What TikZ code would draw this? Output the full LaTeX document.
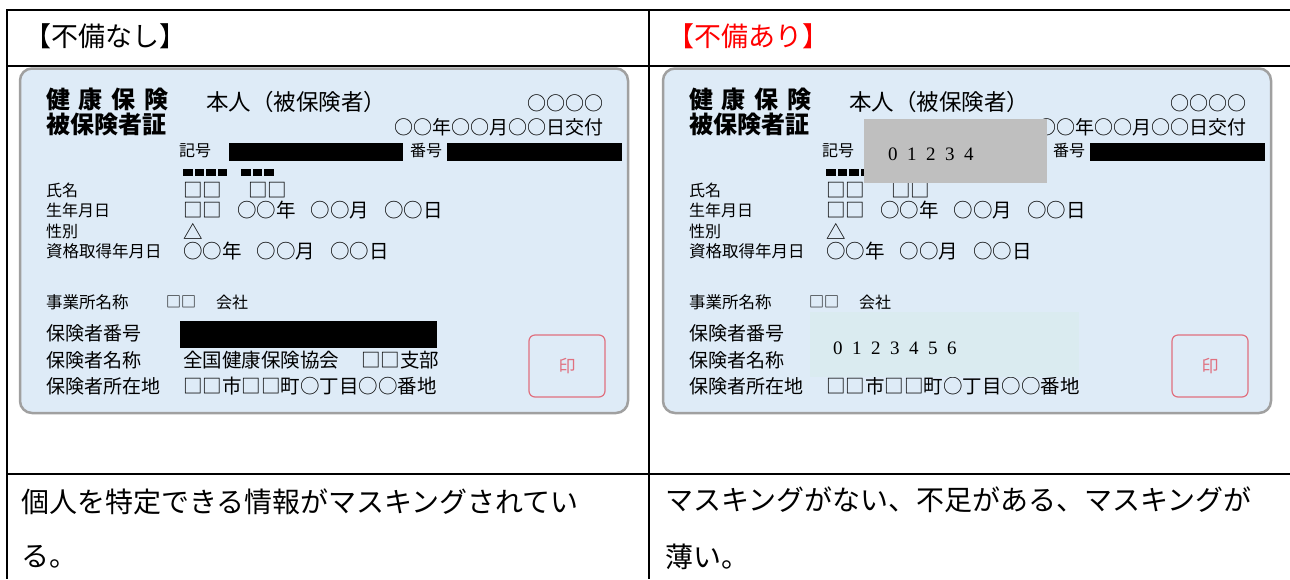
\documentclass[tikz,border=0pt]{standalone}
\usepackage{fontspec}
\setmainfont{Noto Sans CJK JP}
\newfontfamily\numfont{Liberation Serif}[LetterSpace=50]
\usetikzlibrary{positioning}
\definecolor{cardfill}{HTML}{DEEBF7}
\definecolor{cardline}{HTML}{A0A0A0}
\definecolor{maskgray}{HTML}{BFBFBF}
\definecolor{maskblue}{HTML}{DAEBF0}
\definecolor{sealred}{HTML}{E0707F}
\newcommand\fs[1]{\fontsize{#1}{#1}\selectfont}
\newif\ifmasked
\tikzset{%
rule/.style={line width=2pt},
card/.style={draw=cardline,fill=cardfill,line width=2.5pt,rounded corners=12pt},
txt/.style={anchor=west,inner sep=0pt,font=\fs{#1}},
rtxt/.style={anchor=east,inner sep=0pt,font=\fs{#1}},
title/.style={anchor=west,inner sep=0pt,font=\fs{24}\bfseries},
num/.style={anchor=west,inner sep=0pt,font=\fs{19}\numfont},
seal/.style={draw=sealred,line width=1.2pt,rounded corners=6pt,minimum width=76pt,minimum height=62pt,text=sealred,font=\fs{17}}
}
\newcommand\cardbody{%
\draw[card] (20,68.5) rectangle (628,413);
\node[title] (title1) at (46,99) {\makebox[122pt][s]{健\hfill 康\hfill 保\hfill 険}};
\node[title] (title2) at (46,124) {被保険者証};
\node[txt=22.5] (honnin) at (206,102) {本人（被保険者）};
\node[rtxt=19] (code) at (604,103) {○○○○};
\node[rtxt=19] (issued) at (604,127) {○○年○○月○○日交付};
\node[txt=16] (kigo) at (179,151) {記号};
\fill (229,143) rectangle (403,161);
\node[txt=16] (bango) at (410,151) {番号};
\fill (447,143) rectangle (622,161);
\foreach \i in {0,...,3} \fill (183+\i*11.5,169) rectangle ++(9.5,7);
\foreach \i in {0,1,2} \fill (241+\i*11.5,169) rectangle ++(9.5,7);
\node[txt=16] (shimei) at (46,190) {氏名};
\node[txt=19.5] (shimeiv) at (183,190) {□□\hspace{26pt}□□};
\node[txt=16] (seinen) at (46,210) {生年月日};
\node[txt=19.5] (seinenv) at (183,210) {□□\hspace{15pt}○○年\hspace{15pt}○○月\hspace{15pt}○○日};
\node[txt=16] (seibetsu) at (46,231) {性別};
\node[txt=19.5] (seibetsuv) at (183,231) {△};
\node[txt=16.5] (shikaku) at (46,251) {資格取得年月日};
\node[txt=19.5] (shikakuv) at (183,251) {○○年\hspace{15pt}○○月\hspace{15pt}○○日};
\node[txt=16.5] (jigyo) at (46,302) {事業所名称};
\node[txt=15] (jigyov) at (166,302) {□□};
\node[txt=16] (kaisha) at (216,302) {会社};
\node[txt=19] (hoban) at (46,333) {保険者番号};
\node[txt=19] (homei) at (46,360) {保険者名称};
\ifmasked\else
\fill (180,321) rectangle (437,348);
\node[txt=19.5] (homeiv) at (183,360) {全国健康保険協会\hspace{22pt}□□支部};
\fi
\node[txt=19] (hosho) at (46,386) {保険者所在地};
\node[txt=19.5] (hoshov) at (183,386) {□□市□□町○丁目○○番地};
\node[seal] (seal) at (567,366) {印};
}

\begin{document}
\begin{tikzpicture}[x=1pt,y=-1pt]
\useasboundingbox (0,0) rectangle (1290,579);
\begin{scope}[name prefix=ok-]
\cardbody
\end{scope}
\maskedtrue
\begin{scope}[xshift=643,name prefix=ng-]
\cardbody
\end{scope}
% masking on the right card
\fill[maskgray] (864,119) rectangle (1047,183);
\node[num] (kigomask) at (888,154) {01234};
\fill[maskblue] (810,312) rectangle (1079,377);
\node[num] (bangomask) at (833,348) {0123456};
% table
\draw[rule] (7,10) -- (1290,10) (7,66) -- (1290,66) (7,474) -- (1290,474)
            (7,9) -- (7,579) (649,9) -- (649,579);
\node[txt=27] (headok) at (24,36) {【不備なし】};
\node[txt=27,text=red] (headng) at (667,36) {【不備あり】};
\node[txt=28] (noteok) at (21,502) {個人を特定できる情報がマスキングされてい};
\node[txt=28] (noteok2) at (21,557) {る。};
\node[txt=28] (noteng) at (665,500) {マスキングがない、不足がある、マスキングが};
\node[txt=28] (noteng2) at (665,557) {薄い。};
\end{tikzpicture}
\end{document}
